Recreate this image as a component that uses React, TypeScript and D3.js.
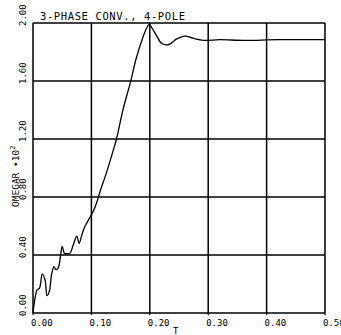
import * as d3 from "d3";

const W = 341;
const H = 335;
const M = { left: 33, top: 23, right: 16, bottom: 22 };

const xTicks = [0, 0.1, 0.2, 0.3, 0.4, 0.5];
const yTicks = [0, 0.4, 0.8, 1.2, 1.6, 2.0];

const tVals = [
	0, 0.003, 0.007, 0.011, 0.016, 0.021, 0.024, 0.028, 0.032, 0.036, 0.039, 0.043, 0.047, 0.05,
	0.054, 0.058, 0.063, 0.069, 0.075, 0.079, 0.083, 0.087, 0.092, 0.096, 0.103, 0.109, 0.115,
	0.126, 0.135, 0.143, 0.154, 0.168, 0.177, 0.189, 0.194, 0.199, 0.203, 0.212, 0.22, 0.232,
	0.246, 0.26, 0.274, 0.292, 0.32, 0.36, 0.42, 0.5,
];
const omegar = [
	0, 0.09, 0.16, 0.17, 0.27, 0.22, 0.12, 0.15, 0.27, 0.32, 0.3, 0.31, 0.39, 0.46, 0.41, 0.41,
	0.41, 0.47, 0.53, 0.48, 0.53, 0.58, 0.62, 0.65, 0.7, 0.76, 0.84, 0.97, 1.09, 1.2, 1.4, 1.61,
	1.76, 1.91, 1.96, 1.99, 1.97, 1.91, 1.86, 1.85, 1.89, 1.91, 1.895, 1.88, 1.885, 1.88, 1.885,
	1.885,
];

const FONT = "'DejaVu Sans Mono', monospace";

export default function App() {
	const iw = W - M.left - M.right;
	const ih = H - M.top - M.bottom;
	const x = d3.scaleLinear().domain([0, 0.5]).range([M.left, M.left + iw]);
	const y = d3.scaleLinear().domain([0, 2]).range([M.top + ih, M.top]);

	const pts = tVals.map((t, i) => [t, omegar[i]] as [number, number]);
	const line = d3
		.line<[number, number]>()
		.x((d) => x(d[0]))
		.y((d) => y(d[1]))
		.curve(d3.curveCatmullRom.alpha(0.5));

	return (
		<svg
			width={W}
			height={H}
			style={{ position: "absolute", left: 0, top: 0, background: "#fff" }}
			fontFamily={FONT}
		>
			{/* grid */}
			{xTicks.map((t) => (
				<line key={"gx" + t} x1={x(t)} x2={x(t)} y1={y(0)} y2={y(2) } stroke="#000" strokeWidth={1.5} />
			))}
			{yTicks.map((t) => (
				<line key={"gy" + t} x1={x(0)} x2={x(0.5)} y1={y(t)} y2={y(t)} stroke="#000" strokeWidth={1.5} />
			))}
			{/* tick marks below x axis */}
			{xTicks.map((t) => (
				<line key={"tx" + t} x1={x(t)} x2={x(t)} y1={y(0)} y2={y(0) + 2} stroke="#000" strokeWidth={1.2} />
			))}

			{/* curve */}
			<path d={line(pts) ?? ""} fill="none" stroke="#000" strokeWidth={1.3} />

			{/* x tick labels */}
			{xTicks.map((t) => (
				<text key={"lx" + t} x={x(t) - 2} y={y(0) + 13} fontSize={9} fill="#000">
					{t.toFixed(2)}
				</text>
			))}
			<text x={173} y={334} fontSize={9} fill="#000">
				T
			</text>

			{/* y tick labels */}
			{yTicks.map((t) => (
				<text
					key={"ly" + t}
					transform={`translate(26,${y(t) + 3}) rotate(-90)`}
					fontSize={9}
					fill="#000"
				>
					{t.toFixed(2)}
				</text>
			))}
			<text transform="translate(19,207) rotate(-90)" fontSize={9.5} fill="#000">
				OMEGAR •10
				<tspan dy={-4} fontSize={7}>
					2
				</tspan>
			</text>

			{/* title */}
			<text x={40} y={20} fontSize={10.5} fill="#000" textLength={145} lengthAdjust="spacing">
				3-PHASE CONV., 4-POLE
			</text>
		</svg>
	);
}
